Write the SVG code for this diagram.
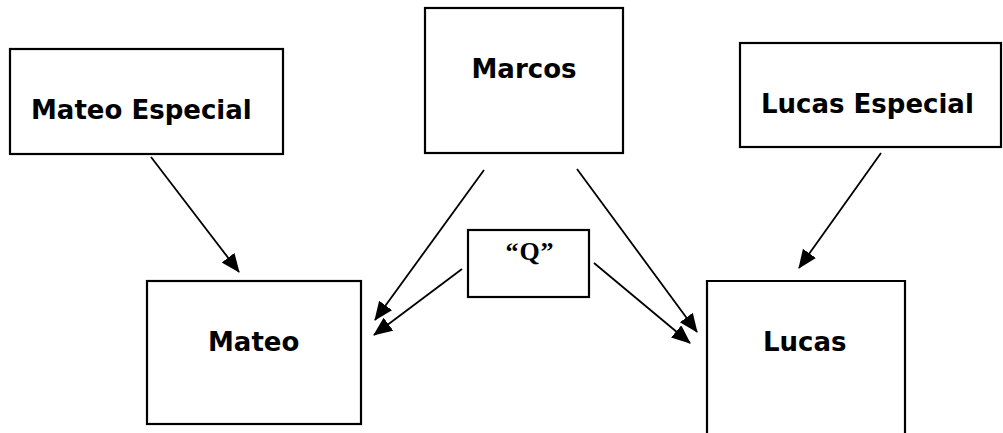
<svg xmlns="http://www.w3.org/2000/svg" width="1003" height="433" viewBox="0 0 1003 433">
  <style>
    .box { fill: #ffffff; stroke: #000000; stroke-width: 2.2; }
    .lbl { font-family: "DejaVu Sans", Verdana, sans-serif; font-weight: bold; font-size: 26px; fill: #000000; }
    .q { font-family: "Liberation Serif", "Times New Roman", serif; font-weight: bold; font-size: 26px; fill: #000000; }
    .conn { stroke: #000000; stroke-width: 1.8; fill: none; marker-end: url(#arrow); }
  </style>
  <defs>
    <marker id="arrow" markerUnits="userSpaceOnUse" markerWidth="22" markerHeight="18" refX="18" refY="8" orient="auto">
      <path d="M0,0 L19,8 L0,16 z" fill="#000000"/>
    </marker>
  </defs>
  <rect width="1003" height="433" fill="#ffffff"/>

  <g id="mateo-especial">
    <rect class="box" x="10" y="49" width="273" height="105"/>
    <text class="lbl" x="31" y="119">Mateo Especial</text>
  </g>
  <g id="marcos">
    <rect class="box" x="425" y="8" width="198" height="145"/>
    <text class="lbl" x="524" y="78" text-anchor="middle">Marcos</text>
  </g>
  <g id="lucas-especial">
    <rect class="box" x="740" y="43" width="261" height="104"/>
    <text class="lbl" x="761" y="113">Lucas Especial</text>
  </g>
  <g id="q">
    <rect class="box" x="468" y="230" width="121" height="67"/>
    <text class="q" x="530" y="260" text-anchor="middle" letter-spacing="1">“Q”</text>
  </g>
  <g id="mateo">
    <rect class="box" x="147" y="281" width="214" height="143"/>
    <text class="lbl" x="208" y="351">Mateo</text>
  </g>
  <g id="lucas">
    <path class="box" d="M707,434 V281 H905 V434"/>
    <text class="lbl" x="763" y="351">Lucas</text>
  </g>

  <g id="connectors">
    <line class="conn" x1="151" y1="157" x2="239" y2="272"/>
    <line class="conn" x1="484" y1="170" x2="375" y2="320"/>
    <line class="conn" x1="462" y1="269" x2="374" y2="335"/>
    <line class="conn" x1="577" y1="169" x2="697" y2="332"/>
    <line class="conn" x1="594" y1="263" x2="690" y2="343"/>
    <line class="conn" x1="881" y1="153" x2="799" y2="268"/>
  </g>
</svg>
